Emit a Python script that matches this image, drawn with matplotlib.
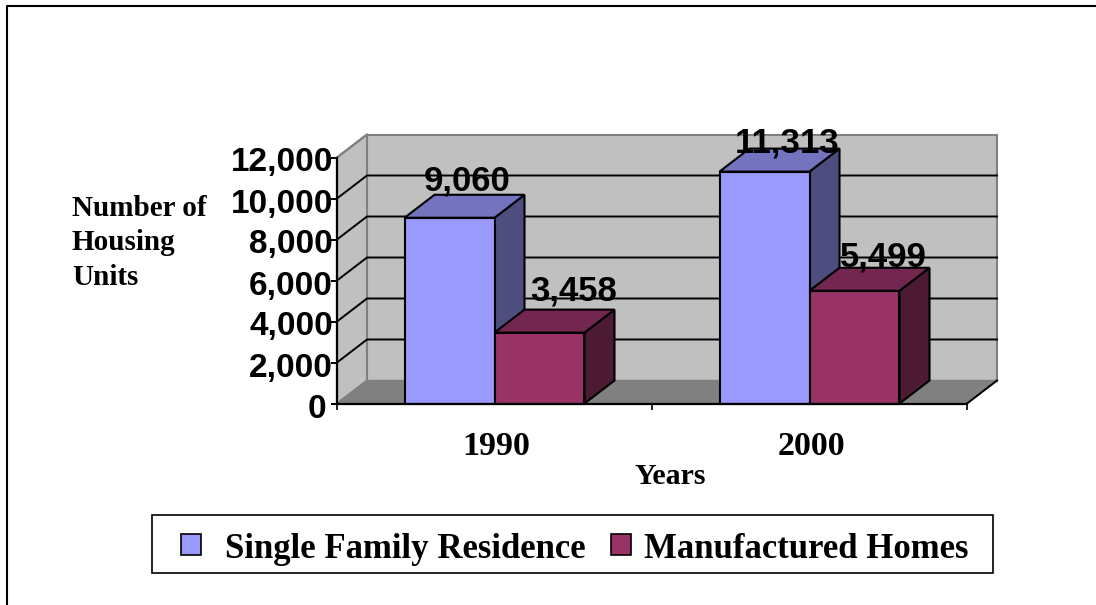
import matplotlib
matplotlib.use("Agg")
import matplotlib.pyplot as plt
from matplotlib.patches import Polygon, Rectangle
from matplotlib.ticker import FuncFormatter
from matplotlib.transforms import ScaledTranslation

years = ["1990", "2000"]
series_names = ["Single Family Residence", "Manufactured Homes"]
single_family = [9060, 11313]
manufactured = [3458, 5499]
y_ticks = [0, 2000, 4000, 6000, 8000, 10000, 12000]

# pixel layout of the reference
W, H = 1096, 605
left, right, bottom, top = 337, 967, 403.5, 157.5
bar_w = 0.2857
depth_x = 30 / 315  # data units per unit of x
depth_y = 23 / 246 * 12000

colors = ["#9999FF", "#993366"]
tops = ["#7373BF", "#732650"]
sides = ["#4D4D80", "#4D1A33"]

sans = "Liberation Sans"
serif = "Liberation Serif"

fig = plt.figure(figsize=(W / 100, H / 100), dpi=100)
fig.patch.set_facecolor("white")

# overlay in pixels for frame, axis titles and legend
pix = fig.add_axes([0, 0, 1, 1], zorder=3)
pix.set_xlim(0, W)
pix.set_ylim(H, 0)
pix.axis("off")
pix.patch.set_alpha(0)

ax = fig.add_axes([left / W, 1 - bottom / H, (right - left) / W, (bottom - top) / H], zorder=2)
ax.set_xlim(0, 2)
ax.set_ylim(0, 12000)
ax.patch.set_alpha(0)

# walls
x0, x1 = 0, 2
ymax = 12000
ax.add_patch(Polygon([(x0 + depth_x, depth_y), (x1 + depth_x, depth_y), (x1 + depth_x, ymax + depth_y), (x0 + depth_x, ymax + depth_y)],
                     fc="#C0C0C0", ec="#808080", lw=1.5, clip_on=False, zorder=1))
ax.add_patch(Polygon([(x0, 0), (x0 + depth_x, depth_y), (x0 + depth_x, ymax + depth_y), (x0, ymax)],
                     fc="#C0C0C0", ec="#808080", lw=1.5, clip_on=False, zorder=1))
ax.add_patch(Polygon([(x0, 0), (x1, 0), (x1 + depth_x, depth_y), (x0 + depth_x, depth_y)],
                     fc="#808080", ec="#808080", lw=1, clip_on=False, zorder=1))

# gridlines, wrapping from the left wall to the back
for t in y_ticks[1:-1]:
    ax.plot([x0, x0 + depth_x, x1 + depth_x], [t, t + depth_y, t + depth_y], color="black", lw=1.4, clip_on=False, zorder=2)
ax.plot([x0, x0 + depth_x], [ymax, ymax + depth_y], color="#808080", lw=1.5, clip_on=False, zorder=2)
ax.plot([x1, x1 + depth_x], [0, depth_y], color="black", lw=1.4, clip_on=False, zorder=2)


def draw_bar(xl, val, i, z):
    xr = xl + bar_w
    ax.add_patch(Polygon([(xr, 0), (xr + depth_x, depth_y), (xr + depth_x, val + depth_y), (xr, val)],
                         fc=sides[i], ec="black", lw=1.5, clip_on=False, zorder=z))
    ax.add_patch(Polygon([(xl, val), (xr, val), (xr + depth_x, val + depth_y), (xl + depth_x, val + depth_y)],
                         fc=tops[i], ec="black", lw=1.5, clip_on=False, zorder=z))
    ax.bar(xl, val, width=bar_w, align="edge", color=colors[i], edgecolor="black", lw=1.5, clip_on=False, zorder=z + 0.1)


# label shifts from the front top centre of each bar, in pixels
label_dx = [[18, 34], [23, 29]]
label_dy = [[27, 32], [19, 24]]

for g in range(len(years)):
    centre = g + 0.5
    for i, vals in enumerate([single_family, manufactured]):
        xl = centre - bar_w + i * bar_w
        draw_bar(xl, vals[g], i, 3 + i)
        ax.annotate(f"{vals[g]:,}", (xl + bar_w / 2, vals[g]), xytext=(label_dx[g][i] * 0.72, label_dy[g][i] * 0.72),
                    textcoords="offset points", ha="center", va="baseline", fontsize=25,
                    fontweight="bold", family=sans, color="black", zorder=10, annotation_clip=False)

for s in ["top", "right"]:
    ax.spines[s].set_visible(False)
for s in ["left", "bottom"]:
    ax.spines[s].set_linewidth(1.6)
    ax.spines[s].set_zorder(8)

ax.set_yticks(y_ticks)
ax.yaxis.set_major_formatter(FuncFormatter(lambda v, p: f"{int(v):,}"))
ax.tick_params(axis="y", length=4.5, width=1.4, pad=1, labelsize=24)
for lab, t in zip(ax.get_yticklabels(), y_ticks):
    lab.set_family(sans)
    lab.set_fontweight("bold")
    lab.set_verticalalignment("center")
    # the zero sits further from the axis in the reference
    shift_x = -3 if t == 0 else 3.5
    lab.set_transform(lab.get_transform() + ScaledTranslation(shift_x / 100, -5.5 / 100, fig.dpi_scale_trans))

ax.set_xticks([0, 1, 2])
ax.set_xticklabels([])
ax.tick_params(axis="x", which="major", length=4.5, width=1.2)
ax.set_xticks([0.5, 1.5], minor=True)
ax.set_xticklabels(years, minor=True, fontsize=24.5, fontweight="bold", family=serif)
ax.tick_params(axis="x", which="minor", length=0, pad=20)
xlab_shift = ScaledTranslation(2 / 100, 0, fig.dpi_scale_trans)
for lab in ax.get_xticklabels(minor=True):
    lab.set_transform(lab.get_transform() + xlab_shift)

# axis titles
pix.text(72, 285, "Number of\nHousing\nUnits", fontsize=21, fontweight="bold", family=serif,
         ha="left", va="baseline", linespacing=1.36)
pix.text(670, 484, "Years", fontsize=21.5, fontweight="bold", family=serif, ha="center", va="baseline")

# legend
pix.add_patch(Rectangle((152, 515), 841, 58, fc="white", ec="black", lw=1.2))
pix.add_patch(Rectangle((180.5, 534), 20, 21, fc=colors[0], ec="black", lw=1.2))
pix.add_patch(Rectangle((611, 534), 20, 21, fc=colors[1], ec="black", lw=1.2))
pix.text(225, 558, series_names[0], fontsize=25, fontweight="bold", family=serif, ha="left", va="baseline")
pix.text(644, 558, series_names[1], fontsize=25, fontweight="bold", family=serif, ha="left", va="baseline")

# outer frame
pix.plot([7, 7, W], [H, 5.5, 5.5], color="black", lw=1.5)

fig.savefig("out.png", dpi=100)
